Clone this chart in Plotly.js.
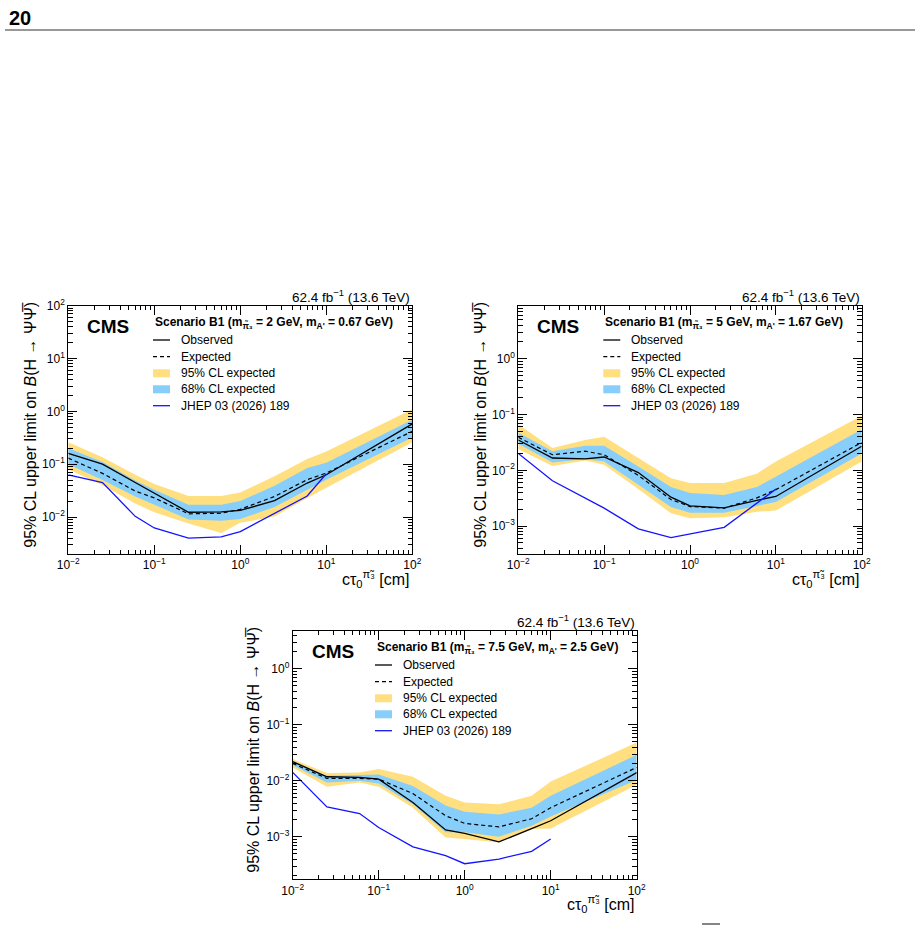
<!DOCTYPE html>
<html><head><meta charset="utf-8">
<script src="https://cdn.plot.ly/plotly-3.0.1.min.js"></script>
<style>html,body{margin:0;padding:0;background:#fff}#chart{width:920px;height:926px}</style>
</head><body><div id="chart"></div>
<script>
// ---------------- data ----------------
const ctau = [0.01, 0.025, 0.06, 0.1, 0.25, 0.6, 1, 2.5, 6, 10, 100];

// Panel 1: m_pi3 = 2 GeV, m_A' = 0.67 GeV
const obs1  = [0.16, 0.10, 0.045, 0.028, 0.0123, 0.0125, 0.0133, 0.0204, 0.044, 0.063, 0.58];
const exp1  = [0.13, 0.067, 0.031, 0.023, 0.0115, 0.0118, 0.014, 0.0245, 0.051, 0.068, 0.42];
const hi95_1 = [0.26, 0.135, 0.063, 0.042, 0.025, 0.025, 0.029, 0.059, 0.126, 0.174, 1.1];
const lo95_1 = [0.08, 0.04, 0.018, 0.0123, 0.0075, 0.005, 0.0078, 0.0102, 0.023, 0.036, 0.26];
const hi68_1 = [0.2, 0.11, 0.049, 0.033, 0.017, 0.017, 0.020, 0.039, 0.085, 0.107, 0.69];
const lo68_1 = [0.1, 0.05, 0.0245, 0.017, 0.009, 0.0085, 0.0092, 0.0155, 0.033, 0.051, 0.32];
const jhepX1 = [0.01, 0.025, 0.06, 0.1, 0.25, 0.6, 1, 6, 10];
const jhep1  = [0.063, 0.045, 0.0103, 0.0062, 0.004, 0.0042, 0.0053, 0.025, 0.066];

// Panel 2: m_pi3 = 5 GeV, m_A' = 1.67 GeV
const obs2  = [0.035, 0.0166, 0.016, 0.0173, 0.0091, 0.0033, 0.0023, 0.00212, 0.0029, 0.0034, 0.027];
const exp2  = [0.039, 0.019, 0.022, 0.019, 0.0081, 0.0030, 0.00224, 0.0021, 0.0032, 0.0045, 0.0316];
const hi95_2 = [0.066, 0.025, 0.035, 0.040, 0.0166, 0.0072, 0.0059, 0.0059, 0.0087, 0.0144, 0.095];
const lo95_2 = [0.024, 0.012, 0.015, 0.0126, 0.0046, 0.0017, 0.00138, 0.00144, 0.0018, 0.0019, 0.0144];
const hi68_2 = [0.047, 0.022, 0.0276, 0.0276, 0.0117, 0.005, 0.0039, 0.0036, 0.005, 0.0077, 0.054];
const lo68_2 = [0.030, 0.0138, 0.016, 0.0144, 0.0055, 0.0022, 0.00174, 0.00174, 0.0023, 0.0027, 0.020];
const jhepX2 = [0.01, 0.025, 0.1, 0.25, 0.6, 2.5, 10];
const jhep2  = [0.020, 0.0065, 0.0021, 0.00089, 0.00062, 0.00095, 0.0046];

// Panel 3: m_pi3 = 7.5 GeV, m_A' = 2.5 GeV
const obs3  = [0.022, 0.0118, 0.0115, 0.0107, 0.0041, 0.00132, 0.00115, 0.00081, 0.0014, 0.00193, 0.014];
const exp3  = [0.0204, 0.011, 0.011, 0.0107, 0.0059, 0.00237, 0.00173, 0.0015, 0.0021, 0.0033, 0.0173];
const hi95_3 = [0.0244, 0.0137, 0.014, 0.0162, 0.0118, 0.0054, 0.0041, 0.0038, 0.0054, 0.0097, 0.048];
const lo95_3 = [0.0173, 0.0078, 0.0093, 0.0078, 0.0033, 0.00097, 0.00091, 0.00079, 0.00137, 0.0014, 0.0085];
const hi68_3 = [0.022, 0.0123, 0.0127, 0.013, 0.0081, 0.0036, 0.0028, 0.0025, 0.0033, 0.0054, 0.029];
const lo68_3 = [0.019, 0.0093, 0.010, 0.0089, 0.0038, 0.0012, 0.0012, 0.001, 0.00157, 0.0023, 0.0103];
const jhepX3 = [0.01, 0.025, 0.06, 0.1, 0.25, 0.6, 1, 2.5, 6, 10];
const jhep3  = [0.0141, 0.0034, 0.0026, 0.00146, 0.00066, 0.00046, 0.00033, 0.0004, 0.00055, 0.00091];

// tick labels
const xTickVals = [0.01, 0.1, 1, 10, 100];
const xTickText = ['10<sup>\u22122</sup>', '10<sup>\u22121</sup>', '10<sup>0</sup>', '10<sup>1</sup>', '10<sup>2</sup>'];
const yTickVals1 = [0.01, 0.1, 1, 10, 100];
const yTickText1 = ['10<sup>\u22122</sup>', '10<sup>\u22121</sup>', '10<sup>0</sup>', '10<sup>1</sup>', '10<sup>2</sup>'];
const yTickVals23 = [0.001, 0.01, 0.1, 1];
const yTickText23 = ['10<sup>\u22123</sup>', '10<sup>\u22122</sup>', '10<sup>\u22121</sup>', '10<sup>0</sup>'];

const legendNames = ['Observed', 'Expected', '95% CL expected', '68% CL expected', 'JHEP 03 (2026) 189'];
const scen1 = 'Scenario B1 (m<sub>\u03C0\u0303\u2083</sub> = 2 GeV, m<sub>A\'</sub> = 0.67 GeV)';
const scen2 = 'Scenario B1 (m<sub>\u03C0\u0303\u2083</sub> = 5 GeV, m<sub>A\'</sub> = 1.67 GeV)';
const scen3 = 'Scenario B1 (m<sub>\u03C0\u0303\u2083</sub> = 7.5 GeV, m<sub>A\'</sub> = 2.5 GeV)';

// ---------------- styling ----------------
const W = 920, H = 926;
const FONT = 'Liberation Sans, Arial, Helvetica, sans-serif';
const YEL = '#FFDF80', BLU = '#87CEFA', JBL = '#1414FF';
const DASH = '4px,3px';
const px = v => v / W, py = v => 1 - v / H;

// panel boxes in pixels: [left, right, top, bottom]
const boxes = [[68.3, 412.3, 305.7, 554], [518.3, 861.7, 305.7, 554], [292.7, 636.7, 630.7, 879.3]];

function traces(k, obs, exp, lo95, hi95, lo68, hi68, jx, jy) {
  const xa = 'x' + (k === 1 ? '' : k), ya = 'y' + (k === 1 ? '' : k);
  const base = {xaxis: xa, yaxis: ya, hoverinfo: 'skip', mode: 'lines', showlegend: false};
  return [
    Object.assign({}, base, {x: ctau, y: lo95, line: {width: 0, color: YEL}}),
    Object.assign({}, base, {x: ctau, y: hi95, fill: 'tonexty', fillcolor: YEL, line: {width: 0, color: YEL}, name: legendNames[2]}),
    Object.assign({}, base, {x: ctau, y: lo68, line: {width: 0, color: BLU}}),
    Object.assign({}, base, {x: ctau, y: hi68, fill: 'tonexty', fillcolor: BLU, line: {width: 0, color: BLU}, name: legendNames[3]}),
    Object.assign({}, base, {x: ctau, y: exp, line: {width: 1.2, color: '#000', dash: DASH}, name: legendNames[1]}),
    Object.assign({}, base, {x: ctau, y: obs, line: {width: 1.3, color: '#000'}, name: legendNames[0]}),
    Object.assign({}, base, {x: jx, y: jy, line: {width: 1.3, color: JBL}, name: legendNames[4]})
  ];
}

const data = [].concat(
  traces(1, obs1, exp1, lo95_1, hi95_1, lo68_1, hi68_1, jhepX1, jhep1),
  traces(2, obs2, exp2, lo95_2, hi95_2, lo68_2, hi68_2, jhepX2, jhep2),
  traces(3, obs3, exp3, lo95_3, hi95_3, lo68_3, hi68_3, jhepX3, jhep3)
);

function axisCommon() {
  return {type: 'log', ticks: 'inside', ticklen: 9, tickwidth: 1, tickcolor: '#000',
    mirror: 'allticks', showline: true, linecolor: '#000', linewidth: 1, showgrid: false, zeroline: false,
    tickmode: 'array', minor: {ticks: 'inside', ticklen: 4.5, tickcolor: '#000', dtick: 'D1', showgrid: false},
    tickfont: {family: FONT, size: 12, color: '#000'}};
}
function xax(b, anchor) {
  return Object.assign(axisCommon(), {domain: [px(b[0]), px(b[1])], anchor: anchor, range: [-2, 2],
    tickvals: xTickVals, ticktext: xTickText});
}
function yax(b, anchor, range, tv, tt) {
  return Object.assign(axisCommon(), {domain: [py(b[3]), py(b[2])], anchor: anchor, range: range,
    tickvals: tv, ticktext: tt});
}

const ann = [];
const shapes = [];
function addPanelText(b, cmsX, scenX, scen, yTitleX, legTextX) {
  ann.push({xref: 'paper', yref: 'paper', x: px(b[1]), y: py(b[2] - 10), xanchor: 'right', yanchor: 'middle',
    text: '62.4 fb<sup>\u22121</sup> (13.6 TeV)', showarrow: false, font: {family: FONT, size: 13.5, color: '#000'}});
  ann.push({xref: 'paper', yref: 'paper', x: px(cmsX), y: py(b[2] + 20.5), xanchor: 'left', yanchor: 'middle',
    text: '<b>CMS</b>', showarrow: false, font: {family: FONT, size: 19, color: '#000'}});
  ann.push({xref: 'paper', yref: 'paper', x: px(scenX), y: py(b[2] + 17), xanchor: 'left', yanchor: 'middle',
    text: '<b>' + scen + '</b>', showarrow: false, font: {family: FONT, size: 12, color: '#000'}});
  ann.push({xref: 'paper', yref: 'paper', x: px(b[1]), y: py(b[3] + 25), xanchor: 'right', yanchor: 'middle',
    text: 'c\u03C4<sub>0</sub><sup>\u03C0\u0303\u2083</sup> [cm]', showarrow: false, font: {family: FONT, size: 16, color: '#000'}});
  ann.push({xref: 'paper', yref: 'paper', x: px(yTitleX), y: py(b[2] - 6), xanchor: 'center', yanchor: 'top', textangle: -90,
    text: '95% CL upper limit on <i>B</i>(H \u2192 \u03A8\u03A8\u0305)', showarrow: false, font: {family: FONT, size: 16, color: '#000'}});
  // legend (drawn in page coordinates)
  const rows = [34.3, 51, 67.6, 83.6, 100].map(o => b[2] + o);
  const s0 = legTextX - 26, s1 = legTextX - 9;
  legendNames.forEach((nm, i) => {
    ann.push({xref: 'paper', yref: 'paper', x: px(legTextX), y: py(rows[i]), xanchor: 'left', yanchor: 'middle',
      text: nm, showarrow: false, font: {family: FONT, size: 12, color: '#000'}});
  });
  const line = (y, color, dash) => ({type: 'line', xref: 'paper', yref: 'paper', x0: px(s0), x1: px(s1), y0: py(y), y1: py(y),
    line: {color: color, width: 1.3, dash: dash || 'solid'}});
  const rect = (y, color) => ({type: 'rect', xref: 'paper', yref: 'paper', x0: px(s0), x1: px(s1), y0: py(y + 4), y1: py(y - 4),
    fillcolor: color, line: {width: 0}});
  shapes.push(line(rows[0], '#000'), line(rows[1], '#000', DASH), rect(rows[2], YEL), rect(rows[3], BLU), line(rows[4], JBL));
}
addPanelText(boxes[0], 85, 153, scen1, 31, 179);
addPanelText(boxes[1], 535, 603, scen2, 481, 629.3);
addPanelText(boxes[2], 310, 375, scen3, 254, 401);
ann.push({xref: 'paper', yref: 'paper', x: px(7), y: py(18), xanchor: 'left', yanchor: 'middle',
  text: '<b>20</b>', showarrow: false, font: {family: FONT, size: 20, color: '#000'}});
shapes.push(
  {type: 'line', xref: 'paper', yref: 'paper', x0: px(5), x1: px(915), y0: py(30), y1: py(30), line: {color: '#333', width: 1.2}},
  {type: 'line', xref: 'paper', yref: 'paper', x0: px(702), x1: px(720), y0: py(924), y1: py(924), line: {color: '#333', width: 1.2}}
);

const layout = {
  width: W, height: H, autosize: false, margin: {l: 0, r: 0, t: 0, b: 0},
  paper_bgcolor: '#fff', plot_bgcolor: '#fff', showlegend: false,
  font: {family: FONT, color: '#000'},
  xaxis: xax(boxes[0], 'y'), yaxis: yax(boxes[0], 'x', [-2.7, 2], yTickVals1, yTickText1),
  xaxis2: xax(boxes[1], 'y2'), yaxis2: yax(boxes[1], 'x2', [-3.5, 0.95], yTickVals23, yTickText23),
  xaxis3: xax(boxes[2], 'y3'), yaxis3: yax(boxes[2], 'x3', [-3.76, 0.68], yTickVals23, yTickText23),
  annotations: ann,
  shapes: shapes
};

Plotly.newPlot('chart', data, layout, {staticPlot: true, displayModeBar: false});
</script></body></html>
